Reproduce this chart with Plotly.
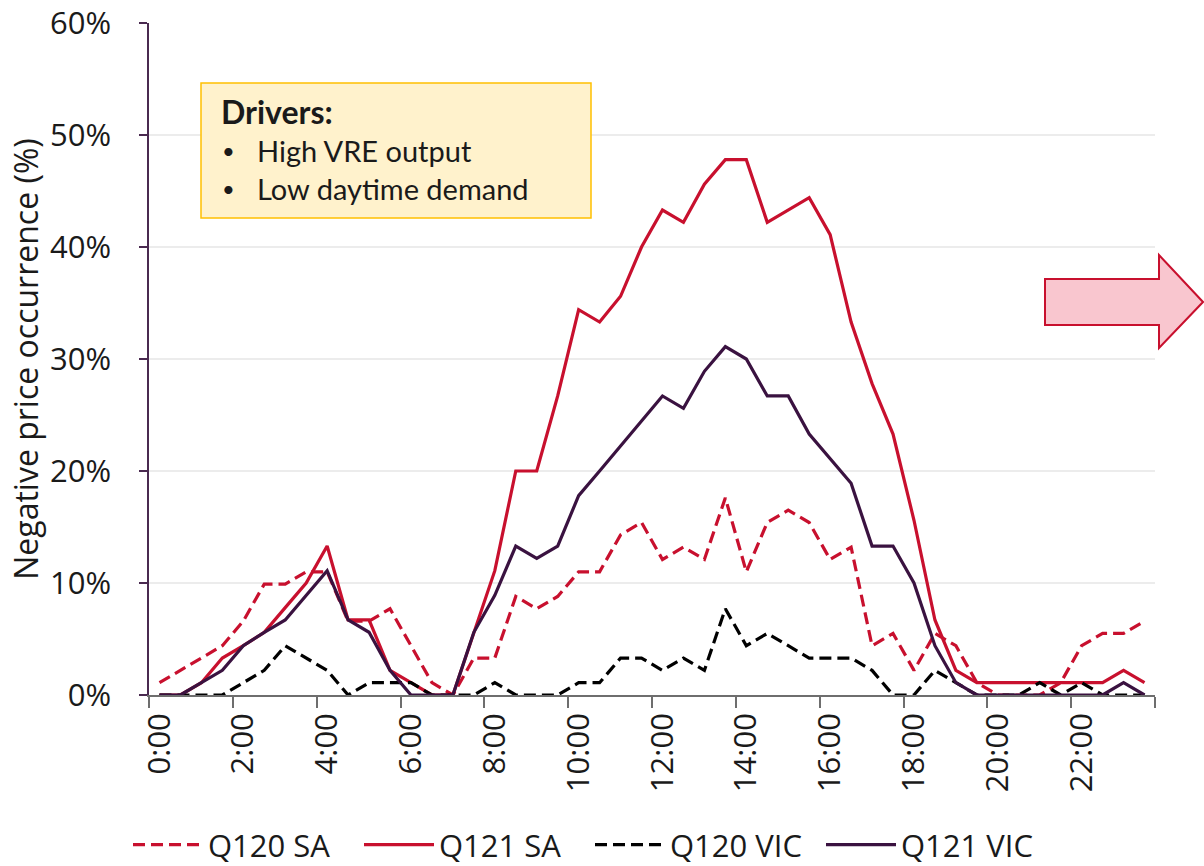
import plotly.graph_objects as go

# Half-hour time categories
times = [f"{h}:{m:02d}" for h in range(24) for m in (0, 30)]

q120_sa = [1.1, 2.2, 3.3, 4.4, 6.6, 9.9, 9.9, 11.0, 11.0, 6.6, 6.6, 7.7, 4.4, 1.1, 0, 3.3,
           3.3, 8.8, 7.7, 8.8, 11.0, 11.0, 14.3, 15.4, 12.1, 13.2, 12.1, 17.6, 11.0, 15.4, 16.5, 15.4,
           12.1, 13.2, 4.4, 5.5, 2.2, 5.5, 4.4, 1.1, 0, 0, 0, 1.1, 4.4, 5.5, 5.5, 6.6]
q121_sa = [0, 0, 1.1, 3.3, 4.4, 5.6, 7.8, 10.0, 13.3, 6.7, 6.7, 2.2, 1.1, 0, 0, 5.6,
           11.1, 20.0, 20.0, 26.7, 34.4, 33.3, 35.6, 40.0, 43.3, 42.2, 45.6, 47.8, 47.8, 42.2, 43.3, 44.4,
           41.1, 33.3, 27.8, 23.3, 15.6, 6.7, 2.2, 1.1, 1.1, 1.1, 1.1, 1.1, 1.1, 1.1, 2.2, 1.1]
q120_vic = [0, 0, 0, 0, 1.1, 2.2, 4.4, 3.3, 2.2, 0, 1.1, 1.1, 1.1, 0, 0, 0,
            1.1, 0, 0, 0, 1.1, 1.1, 3.3, 3.3, 2.2, 3.3, 2.2, 7.7, 4.4, 5.5, 4.4, 3.3,
            3.3, 3.3, 2.2, 0, 0, 2.2, 1.1, 0, 0, 0, 1.1, 0, 1.1, 0, 0, 0]
q121_vic = [0, 0, 1.1, 2.2, 4.4, 5.6, 6.7, 8.9, 11.1, 6.7, 5.6, 2.2, 0, 0, 0, 5.6,
            8.9, 13.3, 12.2, 13.3, 17.8, 20.0, 22.2, 24.4, 26.7, 25.6, 28.9, 31.1, 30.0, 26.7, 26.7, 23.3,
            21.1, 18.9, 13.3, 13.3, 10.0, 4.4, 1.1, 0, 0, 0, 0, 0, 0, 0, 1.1, 0]

series_names = ["Q120 SA", "Q121 SA", "Q120 VIC", "Q121 VIC"]
series_vals = [q120_sa, q121_sa, q120_vic, q121_vic]
series_colors = ["#c8102e", "#c8102e", "#000000", "#3a1240"]
series_dash = ["12px,6px", "solid", "12px,6px", "solid"]

box_title = "Drivers:"
box_bullets = ["High VRE output", "Low daytime demand"]

# figure geometry (pixels); page body margin is removed by a post script
W, H = 1204, 866
L, T = 149, 23
R = W - 1155
B = H - 695
PW, PH = W - L - R, H - T - B


def px(x):
    return (x - L) / PW


def py(y):
    return (H - B - y) / PH


fig = go.Figure()
for name, vals, col, dash in zip(series_names, series_vals, series_colors, series_dash):
    fig.add_trace(go.Scatter(
        x=times, y=vals, name=name, mode="lines",
        line=dict(color=col, width=3.2, dash=dash),
    ))

FONT = "Open Sans, Segoe UI, sans-serif"
TXT = "#1a1a1a"

fig.update_layout(
    width=W, height=H,
    margin=dict(l=L, r=R, t=T, b=B, pad=0, autoexpand=False),
    plot_bgcolor="white", paper_bgcolor="white",
    font=dict(family=FONT, size=31, color=TXT),
    showlegend=True,
    legend=dict(
        orientation="h", xref="container", yref="container",
        x=128 / W, y=1 - 845 / H, xanchor="left", yanchor="middle",
        font=dict(size=31, family=FONT, color=TXT),
        itemwidth=70, entrywidth=146, entrywidthmode="pixels",
        bgcolor="rgba(0,0,0,0)",
    ),
    xaxis=dict(
        type="category", categoryorder="array", categoryarray=times,
        tickmode="linear", tick0=0, dtick=4,
        tickson="boundaries",
        tickangle=-90,
        ticks="outside", ticklen=11, tickwidth=1.5, tickcolor="#6e6e6e",
        showline=True, linecolor="#6e6e6e", linewidth=1.5,
        showgrid=False, zeroline=False, automargin=False,
        tickfont=dict(size=31, family=FONT, color=TXT),
        ticklabelstandoff=4,
        range=[-0.5, 47.5],
    ),
    yaxis=dict(
        range=[0, 60], dtick=10, tick0=0, ticksuffix="%",
        ticks="outside", ticklen=8, tickwidth=1.5, tickcolor="#4a2a50",
        showline=True, linecolor="#4a2a50", linewidth=1.5,
        showgrid=True, gridcolor="#ececec", gridwidth=1.5,
        zeroline=False, automargin=False,
        ticklabeloverflow="allow",
        tickfont=dict(size=31, family=FONT, color=TXT),
        ticklabelstandoff=22,
        title=dict(text="Negative price occurrence (%)", standoff=2,
                   font=dict(size=32, family=FONT, color=TXT)),
    ),
)

# Drivers box
fig.add_shape(type="rect", xref="paper", yref="paper",
              x0=px(201), x1=px(591), y0=py(218), y1=py(83),
              fillcolor="#fff2cc", line=dict(color="#ffc000", width=1.5), layer="above")
BOXFONT = "Lato, Open Sans, sans-serif"
fig.add_annotation(xref="paper", yref="paper", x=px(219), y=py(112), xanchor="left", yanchor="middle",
                   text=f"<b>{box_title}</b>", showarrow=False,
                   font=dict(family=BOXFONT, size=32, color=TXT))
for i, t in enumerate(box_bullets):
    yy = py(150 + 38.5 * i)
    fig.add_annotation(xref="paper", yref="paper", x=px(228), y=yy, xanchor="center", yanchor="middle",
                       text="•", showarrow=False, font=dict(family=BOXFONT, size=22, color=TXT))
    fig.add_annotation(xref="paper", yref="paper", x=px(255), y=yy, xanchor="left", yanchor="middle",
                       text=t, showarrow=False, font=dict(family=BOXFONT, size=29, color=TXT))

# Block arrow on the right
pts = [(1045, 279), (1159, 279), (1159, 255), (1203, 302), (1159, 348), (1159, 325), (1045, 325)]
path = "M " + " L ".join(f"{px(x):.5f},{py(y):.5f}" for x, y in pts) + " Z"
fig.add_shape(type="path", xref="paper", yref="paper", path=path,
              fillcolor="#f9c6cf", line=dict(color="#c8102e", width=2), layer="above")

fig.write_html("out.html", config={"displayModeBar": False},
               post_script="document.body.style.margin='0px';document.body.style.overflow='hidden';")
